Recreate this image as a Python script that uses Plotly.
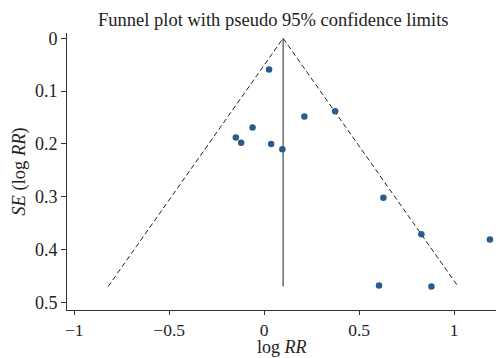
import numpy as np
import plotly.graph_objects as go

# Study estimates: log relative risk and its standard error
log_rr = [0.026, 0.212, 0.374, -0.061, -0.149, -0.121, 0.037, 0.096,
          0.628, 0.828, 1.189, 0.605, 0.881]
se_log_rr = [0.059, 0.148, 0.138, 0.169, 0.188, 0.198, 0.200, 0.210,
             0.302, 0.371, 0.381, 0.468, 0.470]

# Pooled estimate and funnel depth
pooled = 0.1
se_max = 0.47
z95 = 1.96

x_ticks = [-1, -0.5, 0, 0.5, 1]
x_tick_labels = ["\u22121", "\u22120.5", "0", "0.5", "1"]
y_ticks = [0, 0.1, 0.2, 0.3, 0.4, 0.5]
y_tick_labels = ["0", "0.1", "0.2", "0.3", "0.4", "0.5"]

font_family = "Liberation Serif"
ink = "#222222"

fig = go.Figure()

# Pseudo 95% confidence limits
fig.add_trace(go.Scatter(
    x=[pooled - z95 * se_max, pooled, pooled + z95 * se_max],
    y=[se_max, 0, se_max],
    mode="lines",
    line=dict(color="#222222", width=1, dash="5px,3px"),
    hoverinfo="skip", showlegend=False,
))

# Pooled effect line
fig.add_trace(go.Scatter(
    x=[pooled, pooled], y=[0, se_max],
    mode="lines",
    line=dict(color="#222222", width=1),
    hoverinfo="skip", showlegend=False,
))

# Individual studies
fig.add_trace(go.Scatter(
    x=log_rr, y=se_log_rr,
    mode="markers",
    marker=dict(color="#2a5b8c", size=6.5),
    showlegend=False,
))

# x-axis title sitting at the bottom edge of the figure
fig.add_annotation(
    text="log <i>RR</i>", x=0.5, xref="paper", y=0, yref="paper",
    xanchor="center", yanchor="bottom", yshift=-48, showarrow=False,
    borderpad=0,
    font=dict(family=font_family, size=18, color=ink),
)

fig.update_layout(
    width=496, height=358,
    margin=dict(l=67, r=0, t=33, b=48),
    paper_bgcolor="white", plot_bgcolor="white",
    font=dict(family=font_family, size=17, color=ink),
    title=dict(
        text="Funnel plot with pseudo 95% confidence limits",
        x=0.551, xref="container", xanchor="center",
        y=0.945, yref="container", yanchor="middle",
        font=dict(family=font_family, size=18.5, color=ink),
    ),
    xaxis=dict(
        range=[-1.038, 1.221],
        tickvals=x_ticks, ticktext=x_tick_labels,
        tickfont=dict(family=font_family, size=17.5, color=ink),
        showgrid=False, zeroline=False,
        showline=True, linecolor="#333333", linewidth=1,
        ticks="outside", ticklen=4, tickcolor="#333333",
    ),
    yaxis=dict(
        range=[0.5146, -0.010],
        tickvals=y_ticks, ticktext=y_tick_labels,
        tickfont=dict(family=font_family, size=18, color=ink),
        showgrid=False, zeroline=False,
        showline=True, linecolor="#333333", linewidth=1,
        ticks="outside", ticklen=5, tickcolor="#333333",
        title=dict(text="<i>SE</i> (log <i>RR</i>)", standoff=4,
                   font=dict(family=font_family, size=18.5, color=ink)),
    ),
)

fig.write_html("out.html")
